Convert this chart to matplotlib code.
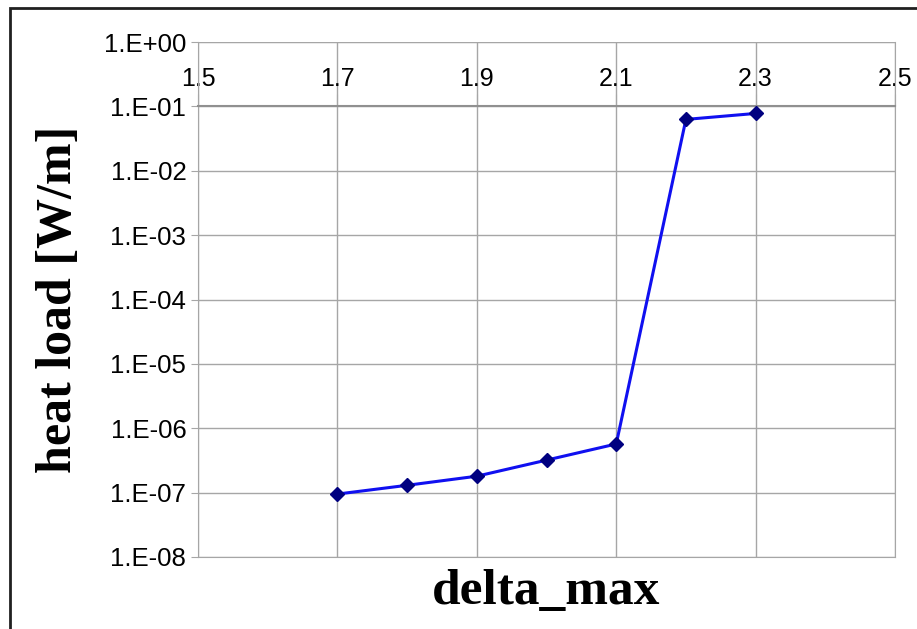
import numpy as np
import matplotlib.pyplot as plt
from matplotlib.ticker import FixedLocator, FuncFormatter

# data
delta_max = [1.7, 1.8, 1.9, 2.0, 2.1, 2.2, 2.3]
heat_load = [9.5e-8, 1.3e-7, 1.8e-7, 3.2e-7, 5.7e-7, 6.3e-2, 7.8e-2]

x_ticks = [1.5, 1.7, 1.9, 2.1, 2.3, 2.5]
y_ticks = [1e-8, 1e-7, 1e-6, 1e-5, 1e-4, 1e-3, 1e-2, 1e-1, 1e0]

GRID = "#a6a6a6"

fig = plt.figure(figsize=(9.17, 6.29), dpi=100)
ax = fig.add_axes([0.216, 0.1145, 0.76, 0.8185])

ax.plot(delta_max, heat_load, color="#1010f0", lw=2.2,
        marker="D", ms=7.5, mfc="#000080", mec="#000080", zorder=3)

ax.set_yscale("log")
ax.set_xlim(1.5, 2.5)
ax.set_ylim(1e-8, 1e0)

# Excel style: value axis crosses at 0.1, labels sit above it
ax.xaxis.tick_top()
ax.spines["top"].set_position(("data", 0.1))
ax.xaxis.set_major_locator(FixedLocator(x_ticks))
ax.xaxis.set_major_formatter(FuncFormatter(lambda v, p: f"{v:.1f}"))
ax.tick_params(axis="x", direction="out", length=9, pad=2, color=GRID,
               labelsize=18)
for lab in ax.get_xticklabels():
    lab.set_fontfamily("Liberation Sans")

ax.yaxis.set_major_locator(FixedLocator(y_ticks))
ax.yaxis.set_minor_locator(FixedLocator([]))
ax.yaxis.set_major_formatter(
    FuncFormatter(lambda v, p: "1.E%+03d" % round(np.log10(v))))
ax.tick_params(axis="y", length=5, color=GRID, labelsize=18.5)
for lab in ax.get_yticklabels():
    lab.set_fontfamily("Liberation Sans")

ax.grid(True, which="major", color=GRID, lw=1)
for s in ("left", "right", "bottom"):
    ax.spines[s].set_color(GRID)
ax.spines["top"].set_color("#909090")
ax.spines["top"].set_linewidth(1.5)
ax.axhline(1e0, color=GRID, lw=1.5)

ax.set_xlabel("delta_max", fontsize=37, fontweight="bold",
              family="Liberation Serif", labelpad=9)
ax.set_ylabel("heat load [W/m]", fontsize=36, fontweight="bold",
              family="Liberation Serif", labelpad=16)

# chart-area frame
fig.patches.append(plt.Rectangle((0.011, -0.01), 1.2, 0.998,
                                 transform=fig.transFigure, fill=False,
                                 ec="#202020", lw=2))

fig.savefig("out.png", dpi=100)
